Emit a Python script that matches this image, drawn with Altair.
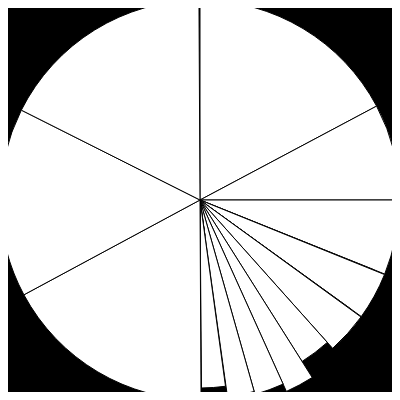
import altair as alt
import pandas as pd

# slice sizes (degrees) clockwise from 12 o'clock, and their radii
slice_angle = [62, 28, 21.85, 0.15, 13.85, 0.15, 12.2, 9.5, 8, 8.5, 7.85, 0.15, 7.35, 0.15, 62, 55, 63]
slice_radius = [200, 200, 199, 188, 199, 186, 199, 191, 210, 202, 199, 36, 188, 67, 200, 200, 200]

ends = pd.Series(slice_angle).cumsum()
df = pd.DataFrame({
    "start": ends - pd.Series(slice_angle),
    "end": ends,
    "r": slice_radius,
    "k": list(range(len(slice_angle))),
})

chart = (
    alt.Chart(df)
    .mark_arc(fill="white", stroke="black", strokeWidth=1)
    .encode(
        theta=alt.Theta("start:Q", scale=alt.Scale(domain=[0, 360], range=[0, 6.283185307])),
        theta2="end:Q",
        radius=alt.Radius("r:Q", scale=alt.Scale(type="linear", domain=[0, 210], range=[0, 210], zero=True, nice=False)),
        order=alt.Order("k:Q"),
    )
    .properties(width=384, height=384, background="black", padding=0, autosize=alt.AutoSizeParams(type="none"))
    .configure_view(strokeWidth=0)
)

chart.save("out.html", embed_options={"renderer": "svg", "actions": False})
